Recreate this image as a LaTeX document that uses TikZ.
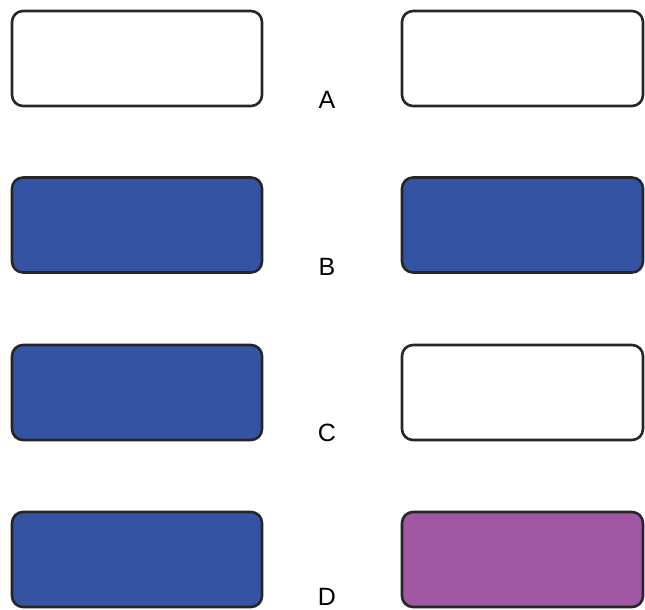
\documentclass[tikz,border=0pt]{standalone}
\usepackage{fontspec}
\setmainfont{Liberation Sans}
\definecolor{boxblue}{RGB}{52,83,163}
\definecolor{boxpurple}{RGB}{160,88,164}
\begin{document}
\begin{tikzpicture}[
  x=1pt, y=-1pt,
  box/.style={draw=black!85, line width=2.6pt, rounded corners=11pt, minimum width=250pt, minimum height=95pt, inner sep=0pt},
  rbox/.style={box, minimum width=241pt},
  lab/.style={font=\fontsize{25}{30}\selectfont, inner sep=0pt}
]
\useasboundingbox (0,0) rectangle (645,610);
\node[box, fill=white] (a1) at (137,58.5) {};
\node[rbox, fill=white] (a2) at (522.5,58.5) {};
\node[lab] (la) at (327,100) {A};
\node[box, fill=boxblue] (b1) at (137,225) {};
\node[rbox, fill=boxblue] (b2) at (522.5,225) {};
\node[lab] (lb) at (327,267) {B};
\node[box, fill=boxblue] (c1) at (137,392.5) {};
\node[rbox, fill=white] (c2) at (522.5,392.5) {};
\node[lab] (lc) at (327,433) {C};
\node[box, fill=boxblue] (d1) at (137,559.5) {};
\node[rbox, fill=boxpurple] (d2) at (522.5,559.5) {};
\node[lab] (ld) at (327,597) {D};
\end{tikzpicture}
\end{document}
